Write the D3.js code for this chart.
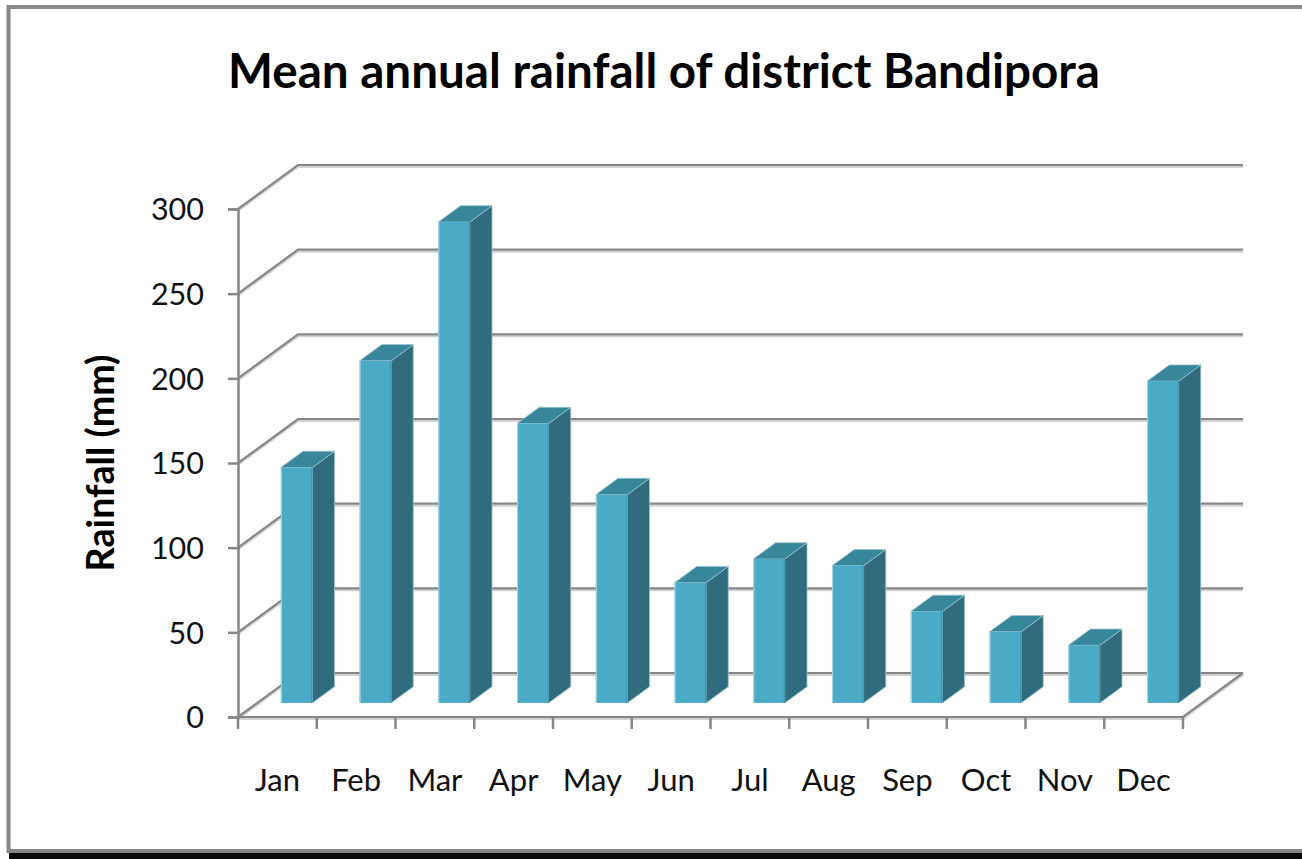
<!DOCTYPE html>
<html>
<head>
<meta charset="utf-8">
<script src="https://cdn.jsdelivr.net/npm/d3@7"></script>
<style>
  html, body { margin: 0; padding: 0; background: #fff; }
  svg { display: block; font-family: Lato, "Open Sans", sans-serif; }
</style>
</head>
<body>
<svg id="chart" width="1302" height="859"></svg>
<script>
const months = ["Jan", "Feb", "Mar", "Apr", "May", "Jun", "Jul", "Aug", "Sep", "Oct", "Nov", "Dec"];
const rainfall = [139, 202, 284, 165, 123, 71, 85, 81, 54, 42, 34, 190];
const yTicks = [0, 50, 100, 150, 200, 250, 300];

const titleText = "Mean annual rainfall of district Bandipora";
const yTitle = "Rainfall (mm)";

const svg = d3.select("#chart");

// front plane of the 3d box
const x = d3.scaleBand().domain(months).range([238, 1183]).paddingInner(0).paddingOuter(0);
const y = d3.scaleLinear().domain([0, 300]).range([717, 209]);

// depth offset (front -> back wall)
const depthX = 60, depthY = -44;
const off = f => [depthX * f, depthY * f];
const barF0 = 0.32, barF1 = 0.69;
const barW = x.bandwidth() / 2.5;

const gridColor = "#868686";

// frame
svg.append("rect")
  .attr("x", 9).attr("y", 853).attr("width", 1293).attr("height", 6)
  .attr("fill", "#0a0a0a");
svg.append("path")
  .attr("d", "M1310,7 H8.5 V851 H1310")
  .attr("fill", "none")
  .attr("stroke", "#878787")
  .attr("stroke-width", 4);

// title
svg.append("text")
  .attr("x", 664)
  .attr("y", 88)
  .attr("text-anchor", "middle")
  .attr("font-weight", "bold")
  .attr("font-size", 43)
  .attr("fill", "#000")
  .text(titleText)
  .each(function () {
    const w = this.getComputedTextLength();
    d3.select(this).attr("font-size", 43 * 872 / w);
  });

// walls: gridlines on the left wall + back wall
const grid = svg.append("g");
const [bx, by] = off(1);
yTicks.forEach(v => {
  const yy = y(v);
  const d = `M${x.range()[0]},${yy} L${x.range()[0] + bx},${yy + by} L${x.range()[1] + bx},${yy + by}`;
  grid.append("path")
    .attr("d", d)
    .attr("transform", "translate(0,2)")
    .attr("fill", "none")
    .attr("stroke", "#d2d2d2")
    .attr("stroke-width", 2);
  grid.append("path")
    .attr("d", d)
    .attr("fill", "none")
    .attr("stroke", gridColor)
    .attr("stroke-width", 2.2);
});

// floor front + right edge
const floor = `M${x.range()[0]},${y(0)} L${x.range()[1]},${y(0)} L${x.range()[1] + bx},${y(0) + by}`;
svg.append("path").attr("d", floor).attr("transform", "translate(0,2)")
  .attr("fill", "none").attr("stroke", "#d2d2d2").attr("stroke-width", 2);
svg.append("path").attr("d", floor)
  .attr("fill", "none").attr("stroke", gridColor).attr("stroke-width", 2.2);

// bars
const bars = svg.append("g")
  .selectAll("g.bar")
  .data(months.map((m, i) => ({ month: m, value: rainfall[i] })))
  .join("g")
  .attr("class", "bar");

bars.each(function (d) {
  const g = d3.select(this);
  const [ox0, oy0] = off(barF0);
  const [ox1, oy1] = off(barF1);
  const cx = x(d.month) + x.bandwidth() / 2;
  const x0 = cx - barW / 2 + ox0, x1 = cx + barW / 2 + ox0;
  const yb = y(0) + oy0, yt = y(d.value) + oy0;
  const ddx = ox1 - ox0, ddy = oy1 - oy0;

  // side face
  g.append("path")
    .attr("d", `M${x1},${yb} L${x1 + ddx},${yb + ddy} L${x1 + ddx},${yt + ddy} L${x1},${yt} Z`)
    .attr("fill", "#316b7e")
    .attr("stroke", "#9cc3cf").attr("stroke-width", 0.8);
  // top face
  g.append("path")
    .attr("d", `M${x0},${yt} L${x1},${yt} L${x1 + ddx},${yt + ddy} L${x0 + ddx},${yt + ddy} Z`)
    .attr("fill", "#37869a")
    .attr("stroke", "#9cc3cf").attr("stroke-width", 0.8);
  // front face
  g.append("rect")
    .attr("x", x0).attr("y", yt)
    .attr("width", x1 - x0).attr("height", yb - yt)
    .attr("fill", "#4babc7");
  g.append("line")
    .attr("x1", x0 + 0.5).attr("x2", x0 + 0.5).attr("y1", yt).attr("y2", yb)
    .attr("stroke", "#a8d8e6").attr("stroke-width", 1);
  g.append("line")
    .attr("x1", x1 - 0.5).attr("x2", x1 - 0.5).attr("y1", yt).attr("y2", yb)
    .attr("stroke", "#3b96ae").attr("stroke-width", 1.2);
});

// y axis
const yAxis = svg.append("g")
  .attr("transform", `translate(${x.range()[0]},0)`)
  .call(d3.axisLeft(y).tickValues(yTicks).tickSize(10).tickPadding(24));
yAxis.select(".domain").attr("stroke", gridColor).attr("stroke-width", 2.5);
yAxis.selectAll(".tick line").attr("stroke", gridColor).attr("stroke-width", 2.5);
yAxis.selectAll(".tick text")
  .attr("font-family", "Lato, sans-serif")
  .attr("font-size", 30.5)
  .attr("fill", "#111")
  .attr("dy", "0.36em");

// x axis
const xAxis = svg.append("g")
  .attr("transform", `translate(0,${y(0)})`)
  .call(d3.axisBottom(x).tickSize(0).tickPadding(0));
xAxis.select(".domain").remove();
xAxis.selectAll(".tick text")
  .attr("font-family", "Lato, sans-serif")
  .attr("font-size", 31)
  .attr("fill", "#111")
  .attr("y", 74)
  .attr("dy", 0);

// category ticks at band edges
const edges = months.map(m => x(m)).concat([x.range()[1]]);
svg.append("g")
  .selectAll("line")
  .data(edges)
  .join("line")
  .attr("x1", d => d).attr("x2", d => d)
  .attr("y1", y(0)).attr("y2", y(0) + 12)
  .attr("stroke", gridColor)
  .attr("stroke-width", 2.5);

// y axis title
svg.append("text")
  .attr("transform", "translate(114,463) rotate(-90)")
  .attr("text-anchor", "middle")
  .attr("font-weight", "bold")
  .attr("font-size", 28)
  .attr("fill", "#000")
  .text(yTitle)
  .each(function () {
    const w = this.getComputedTextLength();
    d3.select(this).attr("font-size", 28 * 217 / w);
  });
</script>
</body>
</html>
